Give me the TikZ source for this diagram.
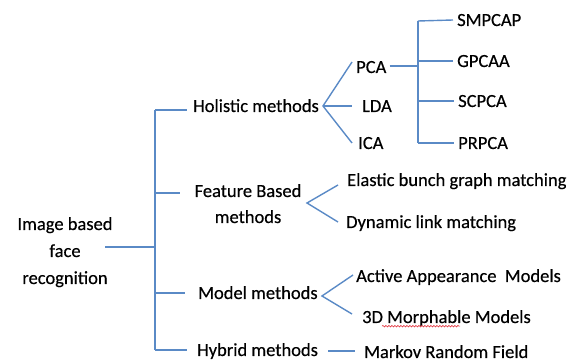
\documentclass[tikz,border=0pt]{standalone}
\usepackage{fontspec}
\setmainfont{Carlito}[FakeBold=0.4]
\usetikzlibrary{decorations.pathmorphing}
\definecolor{linkblue}{HTML}{5A8AC6}
\definecolor{spellred}{HTML}{E0303A}
\tikzset{
  lbl/.style={anchor=west, inner sep=0pt, text height=12pt, text depth=0pt,
              font=\fontsize{18.5}{27}\selectfont},
  link/.style={draw=linkblue, line width=1.4pt},
}
\begin{document}
\begin{tikzpicture}[x=1pt, y=-1pt]
\useasboundingbox (0,0) rectangle (576,363);

% root (base anchor sits on the last line)
\node[anchor=base, align=center, inner sep=0pt,
      font=\fontsize{18.5}{27}\selectfont] (root) at (65,284)
      {Image based\\face\\recognition};

% first level
\node[lbl] (hol) at (193,106) {Holistic methods};
\node[anchor=base, align=center, inner sep=0pt,
      font=\fontsize{18.5}{26}\selectfont] (feat) at (248,223)
      {Feature Based\\methods};
\node[lbl] (model) at (198,293) {Model methods};
\node[lbl] (hyb) at (197,350) {Hybrid methods};

% holistic
\node[lbl] (pca) at (356,67) {PCA};
\node[lbl] (lda) at (362,106) {LDA};
\node[lbl] (ica) at (358,143) {ICA};
\node[lbl] (smp) at (457,20) {SMPCAP};
\node[lbl] (gpc) at (457,61) {GPCAA};
\node[lbl] (scp) at (458,101) {SCPCA};
\node[lbl] (prp) at (458,143) {PRPCA};

% feature based
\node[lbl] (ebgm) at (347,180) {Elastic bunch graph matching};
\node[lbl] (dlm) at (346,222) {Dynamic link matching};

% model based
\node[lbl] (aam) at (356,276) {Active Appearance\ \ Models};
\node[lbl] (mm) at (362,317) {3D Morphable Models};

% hybrid
\node[lbl] (mrf) at (364,352) {Markov Random Field};

% trunk
\coordinate (rootout) at (105,247);
\coordinate (trunkmid) at (155,247);
\coordinate (ttop) at (155,110);
\coordinate (tbot) at (155,350);
\coordinate (tfeat) at (155,193);
\coordinate (tmodel) at (155,293);
\draw[link] (rootout) -- (trunkmid);
\draw[link] (ttop) -- (tbot);
\draw[link] (ttop) -- (187,110);
\draw[link] (tfeat) -- (180,193);
\draw[link] (tmodel) -- (185,293);
\draw[link] (tbot) -- (187,350);

% holistic fan
\coordinate (hfan) at (323,106);
\draw[link] (352,62) -- (hfan) -- (352,143);
\draw[link] (hfan) -- (352,106);

% PCA subtree
\coordinate (ptop) at (418,21);
\coordinate (pbot) at (418,143);
\draw[link] (pca.east) ++(3,-1) -- (418,66);
\draw[link] (ptop) -- (pbot);
\draw[link] (ptop) -- ([xshift=-4pt]smp.west);
\draw[link] (418,61) -- ([xshift=-4pt]gpc.west);
\draw[link] (418,101) -- ([xshift=-4pt]scp.west);
\draw[link] (pbot) -- ([xshift=-4pt]prp.west);

% feature fan
\coordinate (ffan) at (307,203);
\draw[link] (338,185) -- (ffan) -- (338,222);

% model fan
\coordinate (mfan) at (322,296);
\draw[link] (353,275) -- (mfan) -- (352,314);

% hybrid link
\draw[link] (328,351) -- (355,351);

% spell-check underline
\draw[spellred, line width=0.6pt, decorate,
      decoration={snake, amplitude=0.8pt, segment length=3pt}]
  ([xshift=20pt,yshift=-3pt]mm.south west) -- ([xshift=98pt,yshift=-3pt]mm.south west);
\end{tikzpicture}
\end{document}
